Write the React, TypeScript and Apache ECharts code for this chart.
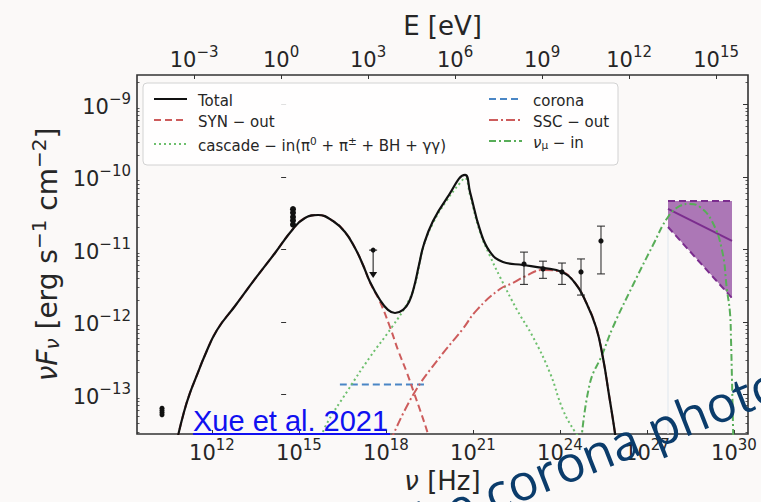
import React, { useEffect, useRef } from 'react';
import * as echarts from 'echarts';

// ---------- axis ranges (real units) ----------
const NU_MIN = 2.59e9;
const NU_MAX = 3.04e30;
const F_MIN = 2.85e-14;
const F_MAX = 2.55e-9;
const HZ_PER_EV = 2.418e14;

// ---------- tick labels (exponents of 10) ----------
const nuTickExps = [12, 15, 18, 21, 24, 27, 30];
const eTickExps = [-3, 0, 3, 6, 9, 12, 15];
const fluxTickExps = [-13, -12, -11, -10, -9];
const minorMantissas = [2, 3, 4, 5, 6, 7, 8, 9];

// ---------- model curves ----------
const totalNu = [6.21e10, 1.08e11, 1.74e11, 3.04e11, 5.74e11, 1.49e12, 6.21e12, 3.04e13, 1.49e14, 6.21e14, 1.61e15, 4.52e15, 1.49e16, 3.85e16, 8.53e16, 1.61e17, 2.81e17, 6.21e17, 1.17e18, 2.04e18, 3.85e18, 6.21e18, 9.25e18, 1.37e19, 2.04e19, 4.18e19, 1.27e20, 5.3e20, 7.89e20, 1.74e21, 3.85e21, 1.08e22, 5.3e22, 2.59e23, 1.17e24, 3.29e24, 7.28e24, 1.74e25, 3.04e25, 4.9e25, 6.73e25, 8.53e25];
const totalFlux = [2.35e-14, 5.74e-14, 1.05e-13, 1.86e-13, 3.51e-13, 7.76e-13, 1.66e-12, 3.92e-12, 8.95e-12, 1.92e-11, 2.72e-11, 2.99e-11, 2.47e-11, 1.74e-11, 1.05e-11, 6.11e-12, 3.56e-12, 2.01e-12, 1.47e-12, 1.33e-12, 1.47e-12, 1.89e-12, 3.04e-12, 6.11e-12, 1.19e-11, 2.47e-11, 5.13e-11, 1.07e-10, 6.21e-11, 1.86e-11, 9.25e-12, 6.73e-12, 6.11e-12, 5.56e-12, 4.9e-12, 3.45e-12, 2.01e-12, 8.53e-13, 3.18e-13, 9.84e-14, 4.45e-14, 2.35e-14];

const synNu = [6.21e10, 1.08e11, 1.74e11, 3.04e11, 5.74e11, 1.49e12, 6.21e12, 3.04e13, 1.49e14, 6.21e14, 1.61e15, 4.52e15, 1.49e16, 3.85e16, 8.53e16, 1.61e17, 2.81e17, 6.21e17, 1.37e18, 2.59e18, 5.3e18, 9.25e18, 1.49e19, 2.81e19, 3.3e19];
const synFlux = [2.35e-14, 5.74e-14, 1.05e-13, 1.86e-13, 3.51e-13, 7.76e-13, 1.66e-12, 3.92e-12, 8.95e-12, 1.92e-11, 2.72e-11, 2.99e-11, 2.47e-11, 1.74e-11, 1.05e-11, 6.11e-12, 3.5e-12, 1.89e-12, 8.53e-13, 4.11e-13, 1.98e-13, 1.05e-13, 6.11e-14, 2.85e-14, 2.2e-14];

const cascadeNu = [5.6e15, 7.89e15, 4.9e16, 2.81e17, 1.61e18, 5.74e18, 1.0e19, 1.89e19, 4.18e19, 1.27e20, 3.56e20, 5.3e20, 7.89e20, 1.74e21, 3.85e21, 8.53e21, 3.29e22, 1.17e23, 4.52e23, 1.27e24, 3.29e24, 4.9e24];
const cascadeFlux = [2.24e-14, 3.56e-14, 1.15e-13, 3.29e-13, 8.53e-13, 1.89e-12, 3.3e-12, 1.05e-11, 2.32e-11, 4.82e-11, 8.26e-11, 9.68e-11, 5.65e-11, 1.74e-11, 8.13e-12, 4.18e-12, 1.47e-12, 6.21e-13, 1.98e-13, 6.11e-14, 3.04e-14, 2.5e-14];

const sscNu = [1.41e18, 8.53e18, 7.28e19, 4.18e20, 1.37e21, 8.53e21, 2.39e22, 5.74e22, 2.59e23, 1.17e24, 3.29e24, 7.28e24, 1.74e25, 3.04e25, 4.9e25, 6.73e25, 8.53e25];
const sscFlux = [2.24e-14, 9.84e-14, 3.29e-13, 7.76e-13, 1.47e-12, 2.85e-12, 3.45e-12, 4.18e-12, 5.21e-12, 4.9e-12, 3.45e-12, 2.01e-12, 8.53e-13, 3.18e-13, 9.84e-14, 4.45e-14, 2.35e-14];

const coronaNu = [2.57e16, 2.82e19];
const coronaFlux = [1.37e-13, 1.37e-13];

const numuNu = [5.37e24, 1.08e25, 2.81e25, 6.73e25, 3.29e26, 1.61e27, 5.3e27, 1.37e28, 3.04e28, 6.73e28, 1.74e29, 3.85e29, 5.74e29, 7.28e29, 7.89e29, 8.53e29, 9.55e29];
const numuFlux = [2.2e-14, 1.44e-13, 3.51e-13, 8.53e-13, 3.24e-12, 1.15e-11, 2.81e-11, 3.98e-11, 4.25e-11, 3.85e-11, 2.45e-11, 9.84e-12, 2.76e-12, 1.33e-12, 5.65e-13, 1.58e-13, 2.0e-14];

// ---------- IceCube butterfly ----------
const icNu = [5.3e27, 8.53e29];
const icTop = [4.67e-11, 4.67e-11];
const icCenter = [3.62e-11, 1.31e-11];
const icLow = [2.04e-11, 2.14e-12];

// ---------- observations ----------
const radioNu = [1.89e10, 1.89e10, 1.89e10, 1.89e10];
const radioFlux = [6.46e-14, 6.03e-14, 5.62e-14, 5.25e-14];

const opticalNu = [6.2e14, 6.2e14, 6.2e14, 6.2e14, 6.2e14];
const opticalFlux = [3.6e-11, 3.2e-11, 2.8e-11, 2.5e-11, 2.2e-11];

const xrayNu = [3.6e17];
const xrayTop = [9.8e-12];
const xrayBottom = [4.3e-12];

const fermiNu = [5.74e22, 2.59e23, 1.17e24, 5.3e24, 2.59e25];
const fermiFlux = [6.3e-12, 5.4e-12, 4.9e-12, 4.9e-12, 1.31e-11];
const fermiLo = [3.3e-12, 4.0e-12, 3.3e-12, 2.35e-12, 4.6e-12];
const fermiHi = [9.2e-12, 6.9e-12, 6.5e-12, 7.4e-12, 2.1e-11];

// ---------- helpers ----------
const L = Math.log10;
const pts = (xs: number[], ys: number[]) => xs.map((x, i) => [L(x), L(ys[i])]);
const FONT = '"DejaVu Sans", sans-serif';
const TXT = '#262626';
const expStr = (v: number) => {
  const e = Math.round(v);
  return e < 0 ? '\u2212' + -e : String(e);
};
const tickFmt = (v: number) => `{b|10}{s|${expStr(v)}}`;
const tickRich = {
  b: { fontSize: 21, fontFamily: FONT, color: TXT, lineHeight: 26, verticalAlign: 'bottom' },
  s: { fontSize: 15, fontFamily: FONT, color: TXT, lineHeight: 14, verticalAlign: 'top' },
};
const minorTicks: number[] = [];
for (let n = -14; n <= -9; n++) {
  minorMantissas.forEach((m) => {
    const v = n + L(m);
    if (v > L(F_MIN) && v < L(F_MAX)) minorTicks.push(v);
  });
}

const legendRich = {
  n: { fontSize: 15, fontFamily: FONT, color: TXT, lineHeight: 18, verticalAlign: 'bottom' },
  i: { fontSize: 15, fontFamily: FONT, color: TXT, lineHeight: 18, fontStyle: 'italic', verticalAlign: 'bottom' },
  sup: { fontSize: 10.5, fontFamily: FONT, color: TXT, lineHeight: 11, verticalAlign: 'top' },
  sub: { fontSize: 10.5, fontFamily: FONT, color: TXT, lineHeight: 11, verticalAlign: 'bottom' },
};
const legendLabels: Record<string, string> = {
  'Total': '{n|Total}',
  'SYN − out': '{n|SYN − out}',
  'cascade − in': '{n|cascade − in(π}{sup|0}{n| + π}{sup|±}{n| + BH + γγ)}',
  'corona': '{n|corona}',
  'SSC − out': '{n|SSC − out}',
  'νμ − in': '{i|ν}{sub|μ}{n| − in}',
};

const RED = '#cd5c5c';
const GREEN_DOT = '#6dbf6d';
const GREEN_DD = '#58ad58';
const BLUE = '#4a86c5';
const PURPLE = '#7b2d8e';

const lineSeries = (name: string, xs: number[], ys: number[], color: string, type: any, width: number, z: number) => ({
  type: 'line',
  name,
  data: pts(xs, ys),
  xAxisIndex: 0,
  yAxisIndex: 0,
  showSymbol: false,
  symbol: 'none',
  smooth: 0.45,
  clip: true,
  z,
  lineStyle: { color, width, type, cap: 'butt' },
  itemStyle: { color },
  emphasis: { disabled: true },
});

const errData = fermiNu.map((x, i) => [L(x), L(fermiFlux[i]), L(fermiLo[i]), L(fermiHi[i])]);

const dotSeries = (name: string, xs: number[], ys: number[], r: number) => ({
  type: 'custom', name, xAxisIndex: 0, yAxisIndex: 0, z: 7, silent: true, clip: true,
  data: pts(xs, ys),
  renderItem: (params: any, api: any) => {
    const p = api.coord([api.value(0), api.value(1)]);
    return { type: 'circle', shape: { cx: p[0], cy: p[1], r }, style: { fill: '#111' } };
  },
});

const legendBase = {
  orient: 'vertical',
  itemWidth: 33,
  itemHeight: 14,
  itemGap: 6,
  selectedMode: false,
  z: 10,
  itemStyle: { color: 'transparent', borderColor: 'transparent', borderWidth: 0, opacity: 0 },
  formatter: (n: string) => legendLabels[n] || n,
  textStyle: { fontFamily: FONT, fontSize: 15, color: TXT, padding: [0, 0, 0, 6], rich: legendRich },
};

const option: any = {
  animation: false,
  backgroundColor: '#fbf9f8',
  grid: {
    left: 137, top: 75, width: 611, height: 359,
    show: true, borderColor: '#333333', borderWidth: 1.6, backgroundColor: 'transparent',
    containLabel: false, outerBoundsMode: 'none',
  },
  xAxis: [
    {
      type: 'value', position: 'bottom', min: L(NU_MIN), max: L(NU_MAX),
      axisLine: { show: false }, splitLine: { show: false },
      axisTick: { show: true, inside: true, length: 4, customValues: nuTickExps, lineStyle: { color: '#333', width: 1 } },
      axisLabel: { customValues: nuTickExps, formatter: tickFmt, rich: tickRich, margin: 3 },
      name: '{i|ν}{n| [Hz]}', nameLocation: 'middle', nameGap: 29,
      nameTextStyle: { rich: { i: { fontSize: 26, fontFamily: FONT, fontStyle: 'italic', color: TXT }, n: { fontSize: 26, fontFamily: FONT, color: TXT } } },
    },
    {
      type: 'value', position: 'top', min: L(NU_MIN) - L(HZ_PER_EV), max: L(NU_MAX) - L(HZ_PER_EV),
      axisLine: { show: false }, splitLine: { show: false },
      axisTick: { show: true, inside: true, length: 4, customValues: eTickExps, lineStyle: { color: '#333', width: 1 } },
      axisLabel: { customValues: eTickExps, formatter: tickFmt, rich: tickRich, margin: 5 },
      name: 'E [eV]', nameLocation: 'middle', nameGap: 12,
      nameTextStyle: { fontSize: 26, fontFamily: FONT, color: TXT },
    },
  ],
  yAxis: [
    {
      type: 'value', position: 'left', min: L(F_MIN), max: L(F_MAX),
      axisLine: { show: false }, splitLine: { show: false },
      axisTick: { show: true, inside: true, length: 5, customValues: fluxTickExps, lineStyle: { color: '#333', width: 1 } },
      axisLabel: { customValues: fluxTickExps, formatter: tickFmt, rich: tickRich, margin: 6 },
      name: '{i|νF}{sub|ν}{n| [erg s}{sup|−1}{n| cm}{sup|−2}{n|]}', nameLocation: 'middle', nameGap: 74, nameRotate: 90,
      nameTextStyle: {
        rich: {
          i: { fontSize: 28, fontFamily: FONT, fontStyle: 'italic', color: TXT, lineHeight: 33, verticalAlign: 'bottom' },
          n: { fontSize: 28, fontFamily: FONT, color: TXT, lineHeight: 33, verticalAlign: 'bottom' },
          sup: { fontSize: 20, fontFamily: FONT, color: TXT, lineHeight: 18, verticalAlign: 'top' },
          sub: { fontSize: 20, fontFamily: FONT, fontStyle: 'italic', color: TXT, lineHeight: 18, verticalAlign: 'bottom' },
        },
      },
    },
    {
      type: 'value', position: 'left', min: L(F_MIN), max: L(F_MAX),
      axisLine: { show: false }, splitLine: { show: false }, axisLabel: { show: false },
      axisTick: { show: true, inside: true, length: 2.5, customValues: minorTicks, lineStyle: { color: '#333', width: 0.8 } },
    },
    {
      type: 'value', position: 'right', min: L(F_MIN), max: L(F_MAX),
      axisLine: { show: false }, splitLine: { show: false }, axisLabel: { show: false },
      axisTick: { show: true, inside: true, length: 5, customValues: fluxTickExps, lineStyle: { color: '#333', width: 1 } },
    },
    {
      type: 'value', position: 'right', min: L(F_MIN), max: L(F_MAX),
      axisLine: { show: false }, splitLine: { show: false }, axisLabel: { show: false },
      axisTick: { show: true, inside: true, length: 2.5, customValues: minorTicks, lineStyle: { color: '#333', width: 0.8 } },
    },
  ],
  legend: [
    { ...legendBase, data: ['Total', 'SYN − out', 'cascade − in'], left: 148, top: 88 },
    { ...legendBase, data: ['corona', 'SSC − out', 'νμ − in'], left: 483, top: 88 },
  ],
  series: [
    {
      type: 'custom', name: 'IceCube', xAxisIndex: 0, yAxisIndex: 0, clip: true, z: 1, silent: true,
      data: [[L(icNu[0]), L(icNu[1]), L(icTop[0]), L(icTop[1]), L(icLow[0]), L(icLow[1])]],
      renderItem: (params: any, api: any) => {
        const x1 = api.value(0), x2 = api.value(1);
        const a = api.coord([x1, api.value(2)]);
        const b = api.coord([x2, api.value(3)]);
        const c = api.coord([x2, api.value(5)]);
        const d = api.coord([x1, api.value(4)]);
        const e = api.coord([x1, L(F_MIN)]);
        return {
          type: 'group',
          children: [
            { type: 'polygon', shape: { points: [a, b, c, d] }, style: { fill: '#a56bb0', opacity: 0.92 } },
            { type: 'line', shape: { x1: d[0], y1: d[1], x2: e[0], y2: e[1] }, style: { stroke: '#dfe7ee', lineWidth: 1 } },
          ],
        };
      },
    },
    { ...lineSeries('IC top', icNu, icTop, PURPLE, [7, 4], 2, 3), smooth: false },
    { ...lineSeries('IC low', icNu, icLow, PURPLE, [7, 4], 2, 3), smooth: false },
    { ...lineSeries('IC center', icNu, icCenter, PURPLE, 'solid', 2, 3), smooth: false },
    lineSeries('corona', coronaNu, coronaFlux, BLUE, [7, 4], 2, 4),
    lineSeries('cascade − in', cascadeNu, cascadeFlux, GREEN_DOT, [2, 3], 2, 4),
    lineSeries('νμ − in', numuNu, numuFlux, GREEN_DD, [7, 3, 2, 3], 2, 5),
    lineSeries('SSC − out', sscNu, sscFlux, RED, [9, 3, 2, 3], 2, 4),
    lineSeries('SYN − out', synNu, synFlux, RED, [7, 4], 2, 4),
    lineSeries('Total', totalNu, totalFlux, '#111111', 'solid', 2.2, 6),
    dotSeries('radio', radioNu, radioFlux, 2.5),
    dotSeries('optical', opticalNu, opticalFlux, 3),
    {
      type: 'custom', name: 'xray', xAxisIndex: 0, yAxisIndex: 0, z: 7, silent: true,
      data: xrayNu.map((x, i) => [L(x), L(xrayTop[i]), L(xrayBottom[i])]),
      renderItem: (params: any, api: any) => {
        const t = api.coord([api.value(0), api.value(1)]);
        const b = api.coord([api.value(0), api.value(2)]);
        return {
          type: 'group',
          children: [
            { type: 'line', shape: { x1: t[0], y1: t[1], x2: b[0], y2: b[1] }, style: { stroke: '#111', lineWidth: 1 } },
            { type: 'line', shape: { x1: t[0] - 4, y1: t[1], x2: t[0] + 4, y2: t[1] }, style: { stroke: '#111', lineWidth: 1 } },
            { type: 'circle', shape: { cx: t[0], cy: t[1], r: 2.5 }, style: { fill: '#111' } },
            { type: 'polygon', shape: { points: [[b[0] - 4, b[1] - 4], [b[0] + 4, b[1] - 4], [b[0], b[1] + 2]] }, style: { fill: '#111' } },
          ],
        };
      },
    },
    {
      type: 'custom', name: 'Fermi', xAxisIndex: 0, yAxisIndex: 0, z: 7, silent: true,
      data: errData,
      renderItem: (params: any, api: any) => {
        const x = api.value(0);
        const p = api.coord([x, api.value(1)]);
        const lo = api.coord([x, api.value(2)]);
        const hi = api.coord([x, api.value(3)]);
        const s = { stroke: '#222', lineWidth: 1 };
        return {
          type: 'group',
          children: [
            { type: 'line', shape: { x1: p[0], y1: hi[1], x2: p[0], y2: lo[1] }, style: s },
            { type: 'line', shape: { x1: p[0] - 4, y1: hi[1], x2: p[0] + 4, y2: hi[1] }, style: s },
            { type: 'line', shape: { x1: p[0] - 4, y1: lo[1], x2: p[0] + 4, y2: lo[1] }, style: s },
            { type: 'circle', shape: { cx: p[0], cy: p[1], r: 2.6 }, style: { fill: '#111' } },
          ],
        };
      },
    },
  ],
  graphic: [
    {
      type: 'rect', z: 3, silent: true,
      shape: { x: 143, y: 83, width: 475, height: 82, r: 4 },
      style: { fill: 'rgba(255,255,255,0.85)', stroke: '#d2d2d2', lineWidth: 1 },
    },
    {
      type: 'text', x: 193, y: 421, z: 20, silent: true,
      style: { text: 'Xue et al. 2021', fill: '#1010f0', font: '29px "Liberation Sans", Arial, sans-serif', textAlign: 'left', textVerticalAlign: 'middle' },
    },
    {
      type: 'line', z: 20, silent: true,
      shape: { x1: 193, y1: 434, x2: 390, y2: 434 },
      style: { stroke: '#1010f0', lineWidth: 2 },
    },
    {
      type: 'text', x: 393, y: 532, rotation: (21.5 * Math.PI) / 180, z: 30, silent: true,
      style: { text: 'The corona photons', fill: '#0b3c6b', font: '50px "Open Sans", sans-serif', textAlign: 'left', textVerticalAlign: 'middle' },
    },
  ],
};

export default function App() {
  const ref = useRef<HTMLDivElement>(null);
  useEffect(() => {
    const chart = echarts.init(ref.current as HTMLDivElement, null, { renderer: 'svg' });
    chart.setOption(option);
    return () => chart.dispose();
  }, []);
  return <div ref={ref} style={{ position: 'fixed', left: 0, top: 0, width: 761, height: 502 }} />;
}
